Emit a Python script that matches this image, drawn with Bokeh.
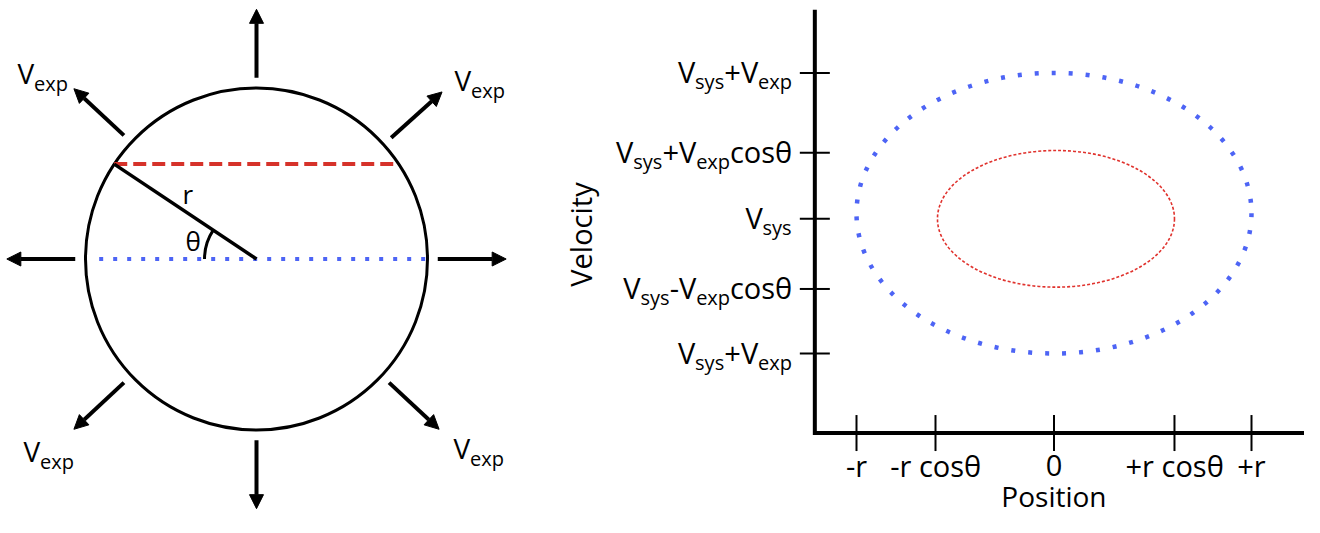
import math
import re
from bokeh.plotting import figure
from bokeh.models import Range1d, ColumnDataSource, Arrow, NormalHead
from bokeh.layouts import row
from bokeh.embed import file_html
from bokeh.resources import INLINE
from bokeh.core.properties import value, field

# ---------------- data ----------------
# left panel: expanding sphere (radius = 1)
theta_deg = 33.7
arrow_angles_deg = [90, 42, 0, -43, -90, -137, 180, 137]
arrow_r_in = 1.06
arrow_r_out = 1.46
blue_line_x = [-0.92, 1.0]
vexp_label = "V_{exp}"
vexp_label_x = [-1.398, 1.158, -1.363, 1.152]
vexp_label_y = [1.015, 0.974, -1.196, -1.178]
r_label = "r"
theta_label = "θ"

# right panel: position-velocity diagram (position in r, velocity in Vexp around Vsys)
pos_ticks = [-1.0, -0.60, 0.0, 0.61, 1.0]
pos_labels = ["-r", "-r cosθ", "0", "+r cosθ", "+r"]
vel_ticks = [1.0, 0.43, -0.04, -0.54, -1.0]
vel_labels = ["V_{sys}+V_{exp}", "V_{sys}+V_{exp}cosθ", "V_{sys}",
              "V_{sys}-V_{exp}cosθ", "V_{sys}+V_{exp}"]
outer_center = (0.0, 0.0)
outer_half = (1.0, 1.0)
inner_center = (0.01, -0.04)
inner_half = (0.60, 0.487)
x_title = "Position"
y_title = "Velocity"

# ---------------- helpers ----------------
FONT = "Open Sans"
OS_W = {' ': 532, '+': 1171, '-': 659, '0': 1171, 'P': 1235, 'V': 1212, 'c': 975,
        'e': 1149, 'i': 518, 'l': 518, 'n': 1257, 'o': 1237, 'p': 1255, 'r': 836,
        's': 977, 't': 723, 'x': 1051, 'y': 1042, 'θ': 1186}
BASE_FIX = 0.45  # empirical baseline correction (fraction of font size, upwards)


def text_px(s, size):
    return sum(OS_W.get(ch, 1100) for ch in s) / 2048.0 * size


def parse(markup):
    segs = []
    pos = 0
    for m in re.finditer(r"_\{([^}]*)\}", markup):
        if m.start() > pos:
            segs.append((markup[pos:m.start()], False))
        segs.append((m.group(1), True))
        pos = m.end()
    if pos < len(markup):
        segs.append((markup[pos:], False))
    return segs


def layout(markup, ax, by, align, pxx, pxy, main, sub, drop, out):
    segs = parse(markup)
    widths = [text_px(t, sub if s else main) for t, s in segs]
    total = sum(widths)
    if align == "right":
        cur = ax - total / pxx
    elif align == "center":
        cur = ax - total / 2.0 / pxx
    else:
        cur = ax
    for (t, s), w in zip(segs, widths):
        size = sub if s else main
        out["x"].append(cur)
        out["y"].append(by - (drop / pxy if s else 0.0) + BASE_FIX * size / pxy)
        out["text"].append(t)
        out["size"].append(f"{size}px")
        cur += w / pxx


def new_texts():
    return {"x": [], "y": [], "text": [], "size": []}


H = 517

# ---------------- left figure ----------------
WA = 540
PXA = 171.0
cxA, cyA = 256.0, 258.5  # centre of sphere in figure pixels (from top-left)
pA = figure(width=WA, height=H, output_backend="svg", toolbar_location=None,
            x_range=Range1d(-cxA / PXA, (WA - cxA) / PXA),
            y_range=Range1d(-(H - cyA) / PXA, cyA / PXA),
            x_axis_type=None, y_axis_type=None, min_border=0,
            outline_line_color=None, background_fill_color="white",
            border_fill_color="white")

th = math.radians(theta_deg)
# sphere outline
pA.circle(x=[0], y=[0], radius=1.0, fill_color=None, line_color="black", line_width=3)
# red dashed chord
pA.line(x=[-math.cos(th), math.cos(th)], y=[math.sin(th)] * 2, line_color="#d6322a",
        line_width=4, line_dash="13 6")
# blue dotted diameter
pA.line(x=blue_line_x, y=[0, 0], line_color="#4d64f5", line_width=4, line_dash="4 10")
# radius line
pA.line(x=[-math.cos(th), 0], y=[math.sin(th), 0], line_color="black", line_width=3.5)
# angle arc
pA.arc(x=[0], y=[0], radius=0.304, start_angle=math.pi - th, end_angle=math.pi,
       line_color="black", line_width=3)

# arrows
angs = [math.radians(a) for a in arrow_angles_deg]
asrc = ColumnDataSource(dict(
    x0=[arrow_r_in * math.cos(a) for a in angs],
    y0=[arrow_r_in * math.sin(a) for a in angs],
    x1=[arrow_r_out * math.cos(a) for a in angs],
    y1=[arrow_r_out * math.sin(a) for a in angs]))
pA.add_layout(Arrow(end=NormalHead(size=14, fill_color="black", line_color="black",
                                   line_width=1),
                    x_start="x0", y_start="y0", x_end="x1", y_end="y1", source=asrc,
                    line_color="black", line_width=4))

tA = new_texts()
for lx, ly in zip(vexp_label_x, vexp_label_y):
    layout(vexp_label, lx, ly, "left", PXA, PXA, 28, 20, 7, tA)
layout(r_label, -0.433, 0.313, "left", PXA, PXA, 26, 18, 0, tA)
layout(theta_label, -0.415, 0.038, "left", PXA, PXA, 26, 18, 0, tA)
pA.text(x="x", y="y", text="text", source=ColumnDataSource(tA),
        text_font=value(FONT), text_font_size=field("size"), text_color="black",
        text_align="left", text_baseline="alphabetic")

# ---------------- right figure ----------------
WB = 1304 - WA
PXX, PXY = 197.5, 140.3
oxB, oyB = 1053.5 - WA, 212.7  # data origin in figure pixels (from top-left)
pB = figure(width=WB, height=H, output_backend="svg", toolbar_location=None,
            x_range=Range1d(-oxB / PXX, (WB - oxB) / PXX),
            y_range=Range1d(-(H - oyB) / PXY, oyB / PXY),
            x_axis_type=None, y_axis_type=None, min_border=0,
            outline_line_color=None, background_fill_color="white",
            border_fill_color="white")

axis_x = -1.211
axis_y = -1.567
axis_top = 1.45
axis_right = (WB - oxB) / PXX

# ellipses
pB.ellipse(x=[outer_center[0]], y=[outer_center[1]], width=2 * outer_half[0],
           height=2 * outer_half[1], fill_color=None, line_color="#4d64f5",
           line_width=4.5, line_dash="4 13")
pB.ellipse(x=[inner_center[0]], y=[inner_center[1]], width=2 * inner_half[0],
           height=2 * inner_half[1], fill_color=None, line_color="#e0322d",
           line_width=1.6, line_dash="3 2")

# axes
pB.line(x=[axis_x, axis_x, axis_right], y=[axis_top, axis_y, axis_y],
        line_color="black", line_width=4, line_join="miter")
# ticks
pB.segment(x0=[axis_x - 15 / PXX] * len(vel_ticks), x1=[axis_x + 15 / PXX] * len(vel_ticks),
           y0=vel_ticks, y1=vel_ticks, line_color="black", line_width=2)
pB.segment(x0=pos_ticks, x1=pos_ticks, y0=[axis_y - 18 / PXY] * len(pos_ticks),
           y1=[axis_y + 18 / PXY] * len(pos_ticks), line_color="black", line_width=2)

tB = new_texts()
for v, lab in zip(vel_ticks, vel_labels):
    layout(lab, axis_x - 23 / PXX, v - 12 / PXY, "right", PXX, PXY, 29, 20, 6, tB)
for xv, lab in zip(pos_ticks, pos_labels):
    layout(lab, xv, axis_y - 45.5 / PXY, "center", PXX, PXY, 29, 20, 6, tB)
layout(x_title, 0.0, -2.105, "center", PXX, PXY, 28, 20, 0, tB)
pB.text(x="x", y="y", text="text", source=ColumnDataSource(tB),
        text_font=value(FONT), text_font_size=field("size"), text_color="black",
        text_align="left", text_baseline="alphabetic")
pB.text(x=[-2.397], y=[-0.152], text=[y_title], angle=math.pi / 2,
        text_font=value(FONT), text_font_size="29px", text_color="black",
        text_align="center", text_baseline="middle")

layout_obj = row(pA, pB)
open("out.html", "w").write(file_html(layout_obj, INLINE))
